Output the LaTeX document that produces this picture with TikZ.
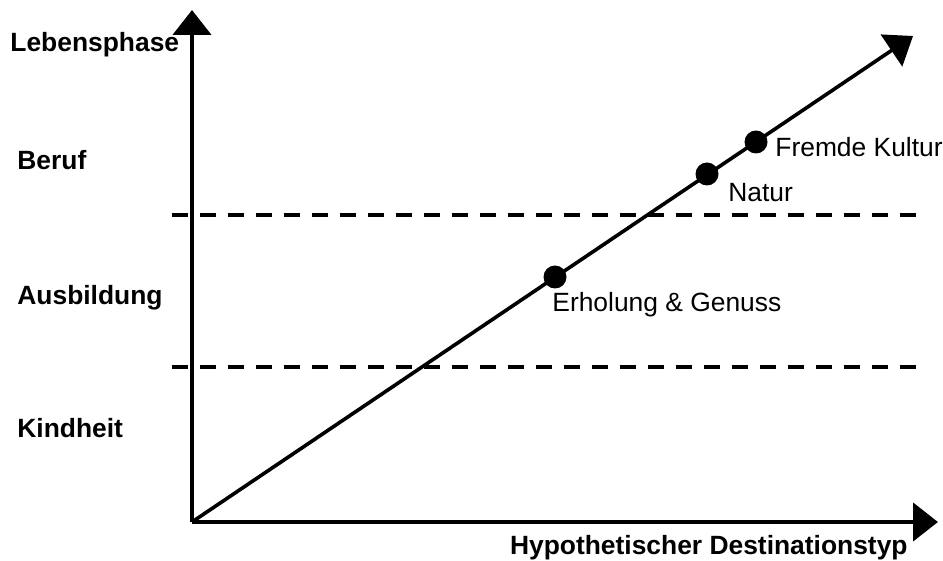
\documentclass[tikz,border=0pt]{standalone}
\usepackage{fontspec}
\setmainfont{Liberation Sans}
\usetikzlibrary{arrows.meta}
\tikzset{axis/.style={-{Triangle[length=12.5pt,width=19pt]},line width=2.3pt},
  phaseline/.style={line width=2.3pt,dash pattern=on 8pt off 6pt},
  dot/.style={circle,fill=black,minimum size=11.5pt,inner sep=0pt},
  phase/.style={anchor=west,font=\fontsize{13.2}{15}\selectfont\bfseries,inner sep=0pt},
  typ/.style={anchor=west,font=\fontsize{13.2}{15}\selectfont,inner sep=0pt}}

\begin{document}
\begin{tikzpicture}[x=0.5pt,y=-0.5pt]
  \path[use as bounding box] (0,0) rectangle (943,561);
  \coordinate (o) at (192,522);
  \coordinate (ytip) at (192,10);
  \coordinate (xtip) at (938,522);
  \coordinate (dtip) at (913,36);
  % phases
  \foreach \y/\n in {215/a,367/b}{
    \coordinate (l\n) at (172,\y);
    \coordinate (r\n) at (917,\y);
    \draw[phaseline] (l\n) -- (r\n);
  }
  \node[phase] (beruf) at (17,160) {Beruf};
  \node[phase] (ausb) at (17,298) {Ausbildung};
  \node[phase] (kind) at (17,428) {Kindheit};
  % axes
  \draw[axis] (o) -- (ytip);
  \draw[axis] (o) -- (xtip);
  \draw[-{Triangle[length=13pt,width=19pt]},line width=1.8pt] (o) -- (dtip);
  \node[phase] (lp) at (10,45) {Lebensphase};
  \node[phase,anchor=east] (ht) at (908,548) {Hypothetischer Destinationstyp};
  % destinations
  \node[dot] (erh) at (555,277) {};
  \node[dot] (nat) at (707,174) {};
  \node[dot] (fk) at (756,142) {};
  \node[typ] (erhl) at (552,305) {Erholung \& Genuss};
  \node[typ] (natl) at (728,193) {Natur};
  \node[typ] (fkl) at (775,147) {Fremde Kultur};
\end{tikzpicture}
\end{document}
